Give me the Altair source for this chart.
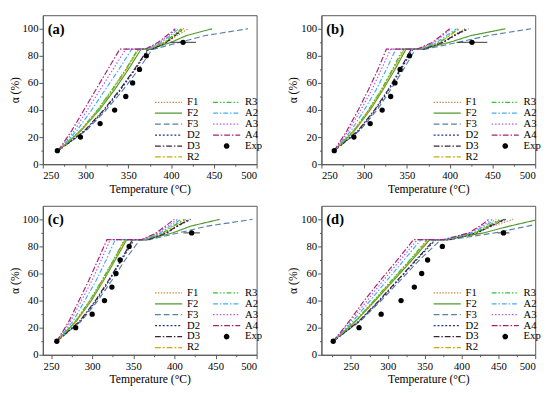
import altair as alt
import pandas as pd

FONT = "Liberation Serif"

MODELS = ["F1", "F2", "F3", "D2", "D3", "R2", "R3", "A2", "A3", "A4"]
LEGEND_ORDER = MODELS + ["Exp"]

COLORS = {
    "F1": "#c8894a", "F2": "#4f9a2e", "F3": "#5a7fa8", "D2": "#1f2f8a",
    "D3": "#3a2438", "R2": "#c9ad00", "R3": "#33c233", "A2": "#45aef0",
    "A3": "#b455e6", "A4": "#a3246f", "Exp": "#000000",
}
DASHES = {
    "F1": [1.5, 1.5], "F2": [1, 0], "F3": [6, 3], "D2": [2, 2],
    "D3": [6, 2, 1.5, 2], "R2": [6, 2, 2, 2], "R3": [5, 2, 1.5, 2, 1.5, 2],
    "A2": [5, 2, 1.5, 2], "A3": [1.5, 2], "A4": [6, 2, 1.5, 2], "Exp": [1, 0],
}
# legend glyphs: a long horizontal stroke for models, a solid dot for Exp
LINE_GLYPH = "M-1,0H4.6"
DOT_GLYPH = ("M1.35,0A0.45,0.45,0,1,1,2.25,0A0.45,0.45,0,1,1,1.35,0Z"
             "M1.55,0A0.25,0.25,0,1,1,2.05,0A0.25,0.25,0,1,1,1.55,0Z"
             "M1.72,0A0.08,0.08,0,1,1,1.88,0A0.08,0.08,0,1,1,1.72,0Z")
SHAPES = {m: LINE_GLYPH for m in MODELS}
SHAPES["Exp"] = DOT_GLYPH

# conversion levels (%) at which model temperatures are given
ALPHA = [10, 25, 40, 55, 70, 85, 85, 90, 95, 100]

T_A = {
    "A4": [268, 284, 298, 312, 326, 340, 370, 385, 395, 405],
    "A3": [268, 287, 302, 317, 332, 347, 371, 387, 397, 407],
    "A2": [268, 290, 307, 323, 339, 354, 372, 389, 399, 409],
    "R3": [268, 294, 314, 331, 347, 361, 374, 392, 402, 412],
    "R2": [268, 295, 315, 332, 348, 362, 374, 393, 403, 414],
    "F1": [268, 294, 314, 331, 347, 362, 375, 395, 407, 420],
    "F2": [268, 295, 316, 334, 350, 365, 376, 400, 418, 448],
    "D3": [268, 299, 321, 340, 357, 373, 378, 394, 404, 414],
    "D2": [268, 300, 322, 341, 358, 374, 379, 395, 405, 415],
    "F3": [268, 301, 324, 344, 362, 378, 380, 410, 440, 490],
}
T_B = {
    "A4": [265, 280, 293, 305, 316, 326, 362, 380, 390, 400],
    "A3": [265, 282, 296, 309, 320, 331, 363, 382, 392, 402],
    "A2": [265, 285, 300, 314, 326, 337, 364, 385, 396, 408],
    "R3": [265, 288, 305, 320, 333, 345, 366, 388, 399, 410],
    "R2": [265, 289, 306, 321, 334, 347, 366, 389, 400, 412],
    "F1": [265, 288, 305, 320, 334, 347, 367, 392, 404, 418],
    "F2": [265, 289, 307, 322, 336, 349, 368, 400, 425, 465],
    "D3": [265, 293, 312, 328, 342, 355, 369, 392, 405, 420],
    "D2": [265, 294, 313, 329, 343, 357, 370, 393, 406, 422],
    "F3": [265, 295, 315, 331, 346, 360, 372, 410, 445, 495],
}
T_C = {
    "A4": [257, 272, 284, 296, 307, 318, 360, 378, 389, 400],
    "A3": [257, 274, 287, 300, 311, 322, 361, 380, 392, 404],
    "A2": [257, 277, 291, 305, 317, 328, 362, 383, 395, 408],
    "R3": [257, 280, 297, 312, 326, 339, 364, 386, 398, 412],
    "R2": [257, 281, 298, 313, 327, 340, 364, 387, 399, 414],
    "F1": [257, 280, 297, 312, 326, 340, 365, 390, 403, 418],
    "F2": [257, 281, 299, 314, 328, 342, 366, 398, 420, 455],
    "D3": [257, 285, 304, 320, 335, 349, 367, 390, 403, 418],
    "D2": [257, 286, 305, 321, 336, 351, 368, 391, 404, 420],
    "F3": [257, 287, 307, 324, 340, 358, 370, 405, 440, 495],
}
T_D = {
    "A4": [226, 248, 268, 290, 313, 335, 375, 410, 425, 437],
    "A3": [226, 250, 272, 294, 317, 340, 376, 412, 428, 442],
    "A2": [226, 253, 276, 299, 322, 345, 377, 415, 431, 447],
    "R3": [226, 256, 281, 305, 330, 353, 379, 418, 435, 452],
    "R2": [226, 257, 282, 306, 331, 355, 379, 419, 436, 455],
    "F1": [226, 256, 282, 306, 331, 355, 380, 422, 442, 470],
    "F2": [226, 257, 283, 308, 333, 357, 381, 430, 465, 505],
    "D3": [226, 261, 288, 313, 338, 363, 382, 420, 438, 458],
    "D2": [226, 262, 289, 314, 339, 365, 383, 421, 440, 460],
    "F3": [226, 263, 291, 317, 343, 372, 385, 445, 490, 530],
}

EXP_ALPHA = [10, 20, 30, 40, 50, 60, 70, 80, 90]
EXP_A = [267, 294, 317, 334, 347, 355, 363, 371, 414]
EXP_B = [265, 288, 307, 321, 331, 336, 342, 353, 426]
EXP_C = [257, 280, 300, 315, 324, 329, 334, 345, 421]
EXP_D = [226, 261, 291, 318, 336, 346, 354, 374, 457]
ERR = [15, 18, 10, 8]   # horizontal error of the 90 % point

XTICKS = [250, 300, 350, 400, 450, 500]
XMINOR = [225, 275, 325, 375, 425, 475]
YTICKS = [0, 20, 40, 60, 80, 100]
YMINOR = [10, 30, 50, 70, 90]
W, H = 221, 154

AX = dict(labelFont=FONT, titleFont=FONT, labelFontSize=11, titleFontSize=12,
          titleFontWeight="normal", labelFontWeight="normal",
          labelColor="#000", titleColor="#000")


def panel(tag, temps, exp_t, err, xmin):
    rows = [
        {"model": m, "T": t, "alpha": a, "k": i}
        for m in MODELS
        for i, (t, a) in enumerate(zip(temps[m], ALPHA))
    ]
    df = pd.DataFrame(rows)
    exp = pd.DataFrame({"model": "Exp", "T": exp_t, "alpha": EXP_ALPHA})
    eb = pd.DataFrame({"T": [exp_t[-1] - err], "T2": [exp_t[-1] + err], "alpha": [EXP_ALPHA[-1]]})
    lab = pd.DataFrame({"t": [tag]})

    leg = alt.Legend(
        title=None, orient="none", legendX=115, legendY=84, columns=2,
        symbolSize=100, symbolStrokeWidth=1.3, labelFont=FONT, labelFontSize=11,
        labelColor="#000", rowPadding=0.3, columnPadding=10, labelOffset=22,
        padding=0,
    )
    xs = alt.Scale(domain=[xmin, 500], nice=False, padding=0)
    ys = alt.Scale(domain=[0, 110], nice=False, padding=0)
    # main axes (drawn once, by the line layer)
    x = alt.X("T:Q", scale=xs, axis=alt.Axis(
        values=XTICKS, title="Temperature (°C)", orient="bottom", **AX))
    y = alt.Y("alpha:Q", scale=ys, axis=alt.Axis(
        values=YTICKS, title="α (%)", orient="left", titlePadding=1,
        labelPadding=1, **AX))
    # minor ticks (drawn by an invisible layer)
    xm = alt.X("T:Q", scale=xs, axis=alt.Axis(
        values=[v for v in XMINOR if v > xmin], orient="bottom", labels=False,
        domain=False, title=None, tickSize=2, grid=False))
    ym = alt.Y("alpha:Q", scale=ys, axis=alt.Axis(
        values=YMINOR, orient="left", labels=False, domain=False, title=None,
        tickSize=2, grid=False))
    # no axis for the other layers
    xn = alt.X("T:Q", scale=xs, axis=None)
    yn = alt.Y("alpha:Q", scale=ys, axis=None)

    color = alt.Color("model:N", legend=leg, scale=alt.Scale(
        domain=LEGEND_ORDER, range=[COLORS[m] for m in LEGEND_ORDER]))
    dash = alt.StrokeDash("model:N", legend=leg, scale=alt.Scale(
        domain=LEGEND_ORDER, range=[DASHES[m] for m in LEGEND_ORDER]))
    shape = alt.Shape("model:N", legend=leg, scale=alt.Scale(
        domain=LEGEND_ORDER, range=[SHAPES[m] for m in LEGEND_ORDER]))

    lines = alt.Chart(df).mark_line(strokeWidth=1.2, clip=True).encode(
        x=x, y=y, color=color, strokeDash=dash, order="k:Q")
    minor = alt.Chart(exp).mark_point(opacity=0).encode(x=xm, y=ym)
    bars = alt.Chart(eb).mark_rule(color="#333", strokeWidth=1).encode(
        x=xn, x2="T2:Q", y=yn)
    # invisible layer that only feeds the legend glyph shapes
    keyer = alt.Chart(exp).mark_point(filled=True, opacity=0).encode(
        x=xn, y=yn, color=color, shape=shape)
    pts = alt.Chart(exp).mark_circle(size=30, color="#000", opacity=1).encode(x=xn, y=yn)
    text = alt.Chart(lab).mark_text(
        font=FONT, fontSize=15, fontWeight="bold", align="left", baseline="middle"
    ).encode(text="t:N", x=alt.value(5), y=alt.value(14))
    return alt.layer(lines, minor, bars, keyer, pts, text).resolve_axis(
        x="independent", y="independent").properties(width=W, height=H)


def res(c):
    return c.resolve_scale(
        x="independent", y="independent", color="independent",
        strokeDash="independent", shape="independent"
    ).resolve_legend(color="independent", strokeDash="independent", shape="independent")


top = res(alt.hconcat(panel("(a)", T_A, EXP_A, ERR[0], 250),
                      panel("(b)", T_B, EXP_B, ERR[1], 250), spacing=24))
bottom = res(alt.hconcat(panel("(c)", T_C, EXP_C, ERR[2], 240),
                         panel("(d)", T_D, EXP_D, ERR[3], 210), spacing=24))
chart = res(alt.vconcat(top, bottom, spacing=10)).properties(
    padding={"left": 0, "top": 0, "right": 0, "bottom": 0},
    background="white",
).configure_view(stroke="#555", strokeWidth=1).configure_axis(
    labelFont=FONT, titleFont=FONT, labelFontSize=11, titleFontSize=12,
    titleFontWeight="normal", labelColor="#000", titleColor="#000",
    domainColor="#555", tickColor="#555", grid=False, tickSize=4,
    titlePadding=3, labelPadding=2,
)

chart.save("out.html", embed_options={"renderer": "svg", "actions": False})
